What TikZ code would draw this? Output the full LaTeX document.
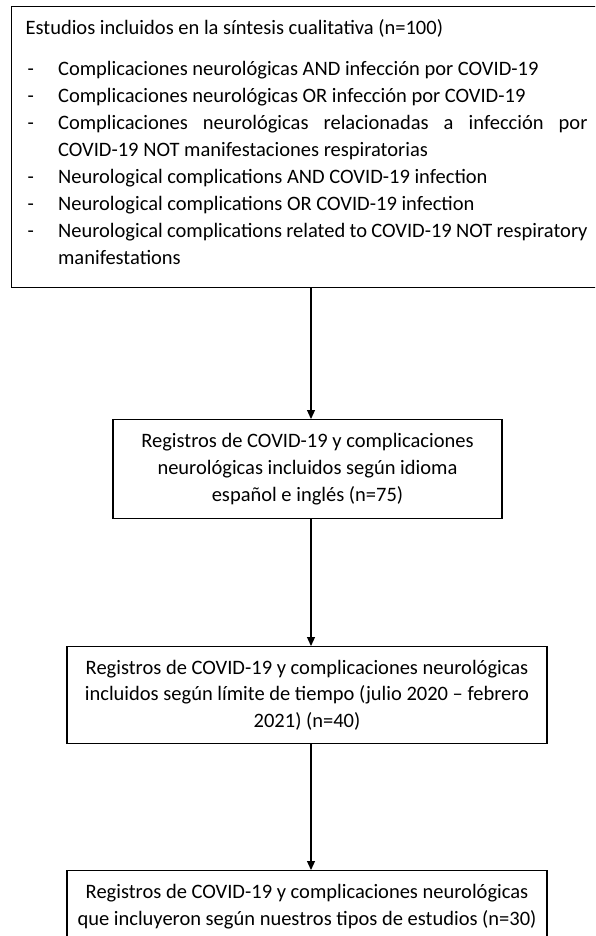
\documentclass[tikz,border=0pt]{standalone}
\usepackage{fontspec}
\setmainfont{Carlito}
\usetikzlibrary{arrows.meta}
\newcommand\dashitem[1]{\par\noindent\hangindent=32.5pt\hangafter=1\makebox[32.5pt][l]{\hspace{2pt}-}#1}
\begin{document}
\begin{tikzpicture}[x=1pt,y=-1pt,
  box/.style={draw=black, line width=1.2pt, align=flush center, inner sep=0pt,
    font=\fontsize{20.5}{26.6}\selectfont},
  arr/.style={line width=1.2pt, -{Triangle[length=9pt,width=8pt]}}]
\useasboundingbox (0,0) rectangle (595,936);
\clip (0,0) rectangle (595,936);
\fill[white] (0,0) rectangle (595,936);
\node[box, anchor=north west, align=justify, text width=562pt, inner xsep=14pt,
  minimum height=281pt, font=\fontsize{20.5}{27}\selectfont] (b1) at (11,6)
  {\noindent Estudios incluidos en la síntesis cualitativa (n=100)\par\vspace{14pt}
   \dashitem{Complicaciones neurológicas AND infección por COVID-19}
   \dashitem{Complicaciones neurológicas OR infección por COVID-19}
   \dashitem{Complicaciones neurológicas relacionadas a infección por\linebreak COVID-19 NOT manifestaciones respiratorias}
   \dashitem{Neurological complications AND COVID-19 infection}
   \dashitem{Neurological complications OR COVID-19 infection}
   \dashitem{Neurological complications related to COVID-19 NOT respiratory\linebreak manifestations}\par\vskip 10pt\hrule height 0pt width 0pt};
\node[box, anchor=north, text width=360pt, minimum width=389pt, minimum height=99pt] (b2) at (307.5,419)
  {Registros de COVID-19 y complicaciones neurológicas incluidos según idioma español e inglés (n=75)};
\node[box, anchor=north, text width=465pt, minimum width=480pt, minimum height=97pt] (b3) at (307,646)
  {Registros de COVID-19 y complicaciones neurológicas incluidos según límite de tiempo (julio 2020 – febrero 2021) (n=40)};
\node[box, anchor=north, text width=465pt, minimum width=480pt, minimum height=72pt] (b4) at (307,870)
  {Registros de COVID-19 y complicaciones neurológicas que incluyeron según nuestros tipos de estudios (n=30)};
\coordinate (ax) at (311,0);
\draw[arr] (b1.south -| ax) -- (b2.north -| ax);
\draw[arr] (b2.south -| ax) -- (b3.north -| ax);
\draw[arr] (b3.south -| ax) -- (b4.north -| ax);
\end{tikzpicture}
\end{document}
